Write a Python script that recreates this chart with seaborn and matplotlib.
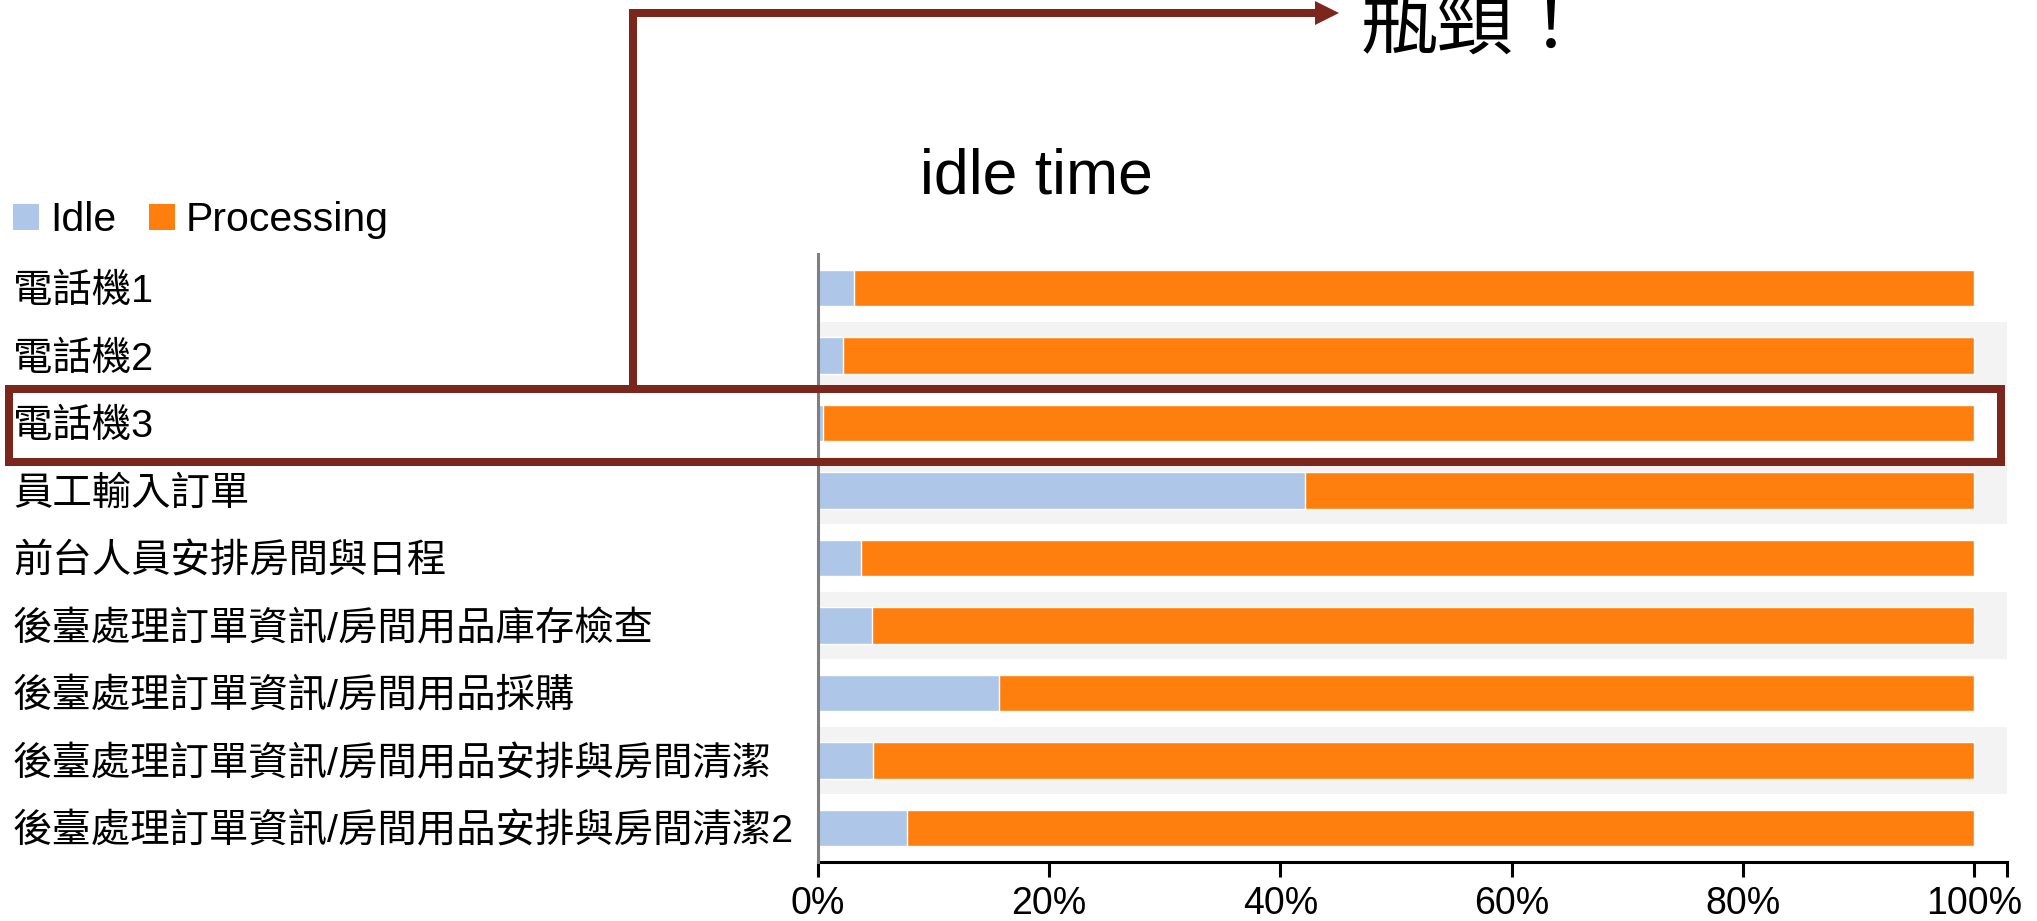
import numpy as np
import pandas as pd
import matplotlib
matplotlib.use("Agg")
import matplotlib.pyplot as plt
from matplotlib.lines import Line2D
from matplotlib.patches import Rectangle, Polygon, Patch
from matplotlib.ticker import FuncFormatter
import seaborn as sns

# ---- data -------------------------------------------------------------
steps = [
    "電話機1",
    "電話機2",
    "電話機3",
    "員工輸入訂單",
    "前台人員安排房間與日程",
    "後臺處理訂單資訊/房間用品庫存檢查",
    "後臺處理訂單資訊/房間用品採購",
    "後臺處理訂單資訊/房間用品安排與房間清潔",
    "後臺處理訂單資訊/房間用品安排與房間清潔2",
]
idle_share = [0.031, 0.022, 0.004, 0.421, 0.037, 0.047, 0.157, 0.048, 0.077]
processing_share = [0.969, 0.978, 0.996, 0.579, 0.963, 0.953, 0.843, 0.952, 0.923]
x_ticks = [0.0, 0.2, 0.4, 0.6, 0.8, 1.0]
series_names = ["Idle", "Processing"]
chart_title = "idle time"
callout_text = "瓶頸！"

IDLE_COLOR = "#aec7e8"
PROC_COLOR = "#ff7f0e"
MARK_COLOR = "#7b271e"
BAND_COLOR = "#f3f3f3"

W, H, DPI = 2037, 921, 100

sns.set_theme(style="white")
plt.rcParams["font.family"] = ["Liberation Sans", "Noto Sans CJK TC", "DejaVu Sans"]
plt.rcParams["text.color"] = "black"
plt.rcParams["xtick.color"] = "black"
plt.rcParams["ytick.color"] = "black"
plt.rcParams["axes.labelcolor"] = "black"

df = pd.DataFrame({"step": steps, "idle": idle_share, "processing": processing_share})
df["total"] = df["idle"] + df["processing"]

fig = plt.figure(figsize=(W / DPI, H / DPI), dpi=DPI)


def fx(px):
    return px / W


def fy(py):
    return 1 - py / H


ax_left, ax_right, ax_top, ax_bottom = 818, 2007, 254, 862
ax = fig.add_axes([fx(ax_left), fy(ax_bottom), fx(ax_right - ax_left), (ax_bottom - ax_top) / H])

n = len(steps)
xmax = 1.0286

# alternating row bands
for i in range(1, n, 2):
    ax.axhspan(i - 0.5, i + 0.5, color=BAND_COLOR, lw=0, zorder=0)

# stacked bars: full processing length, then idle share on top of it
sns.barplot(data=df, x="total", y="step", orient="h", color=PROC_COLOR,
            saturation=1, width=0.54, ax=ax, zorder=2)
sns.barplot(data=df, x="idle", y="step", orient="h", color=IDLE_COLOR,
            saturation=1, width=0.54, ax=ax, zorder=3)

ax.set_xlim(0, xmax)
ax.set_ylim(n - 0.5, -0.5)
ax.set_xlabel("")
ax.set_ylabel("")

# axes styling
for s in ["top", "right"]:
    ax.spines[s].set_visible(False)
ax.spines["left"].set_color("#7f7f7f")
ax.spines["left"].set_linewidth(2.2)
ax.spines["bottom"].set_color("black")
ax.spines["bottom"].set_linewidth(2.2)
ax.spines["left"].set_zorder(4)

ax.set_xticks(x_ticks)
ax.xaxis.set_major_formatter(FuncFormatter(lambda v, _: f"{v * 100:.0f}%"))
ax.set_xticks([xmax], minor=True)
ax.tick_params(axis="x", which="both", direction="out", length=11, width=2.2,
               color="black", labelcolor="black", bottom=True, labelsize=27, pad=6)

ax.set_yticks(range(n))
ax.set_yticklabels(steps, ha="left", fontsize=28.4, color="black")
ax.tick_params(axis="y", length=0, pad=(ax_left - 13) * 72 / DPI)

# legend
handles = [Patch(facecolor=IDLE_COLOR, edgecolor="none"),
           Patch(facecolor=PROC_COLOR, edgecolor="none")]
fig.legend(handles, series_names, loc="center left",
           bbox_to_anchor=(fx(13), fy(220)), frameon=False, ncol=2,
           fontsize=29.5, handlelength=0.64, handleheight=0.6,
           handletextpad=0.26, columnspacing=0.8, borderpad=0, borderaxespad=0,
           labelcolor="black")

# title
fig.text(fx(1036), fy(193), chart_title, ha="center", va="baseline", fontsize=45,
         color="black")

# callout: box around the bottleneck row, with an arrow to the note
lw_pt = 8 * 72 / DPI
fig.add_artist(Rectangle((fx(9), fy(462)), fx(2001 - 9), (462 - 389.5) / H,
                         transform=fig.transFigure, fill=False,
                         edgecolor=MARK_COLOR, lw=lw_pt, joinstyle="miter", zorder=10))
fig.add_artist(Line2D([fx(633), fx(633), fx(1318)], [fy(389.5), fy(13), fy(13)],
                      transform=fig.transFigure, color=MARK_COLOR, lw=lw_pt,
                      solid_joinstyle="miter", solid_capstyle="butt", zorder=10))
fig.add_artist(Polygon([[fx(1315), fy(1)], [fx(1339), fy(13)], [fx(1315), fy(25)]],
                       closed=True, transform=fig.transFigure,
                       facecolor=MARK_COLOR, edgecolor="none", zorder=10))
fig.text(fx(1361), fy(48), callout_text, ha="left", va="baseline", fontsize=55,
         color="black", family=["Noto Sans CJK TC", "DejaVu Sans"])

fig.savefig("out.png", dpi=DPI)
